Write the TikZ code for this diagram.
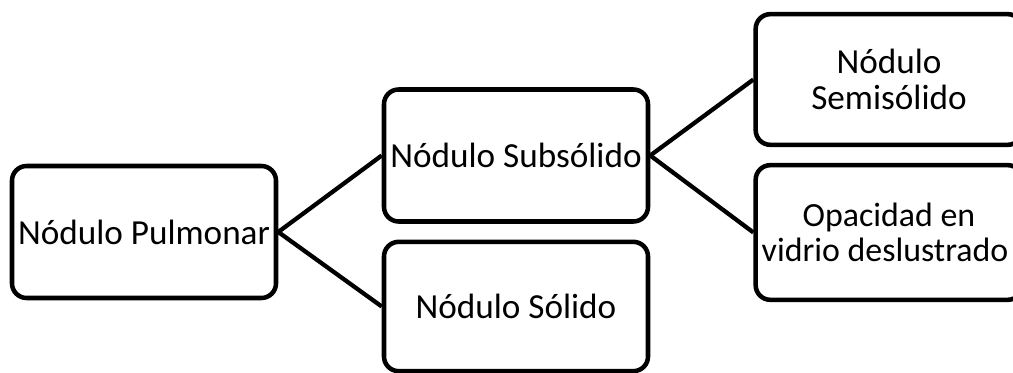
\documentclass[tikz,border=0pt]{standalone}
\usepackage{fontspec}
\setmainfont{Carlito}
\begin{document}
\begin{tikzpicture}[x=0.75pt, y=-0.75pt,
  box/.style={draw=black, line width=3.4pt, rounded corners=11pt, fill=white,
    minimum width=198pt, minimum height=99pt, align=center, inner sep=0pt,
    font=\fontsize{26.4}{26.4}\selectfont},
  link/.style={draw=black, line width=3.2pt}]
  \useasboundingbox (0,0) rectangle (1013,373);
  \node[box] (pul) at (144,232) {Nódulo Pulmonar};
  \node[box] (sub) at (516,155.5) {Nódulo Subsólido};
  \node[box, minimum height=97pt] (sol) at (516,306.5) {Nódulo Sólido};
  % right column runs past the page edge
  \node[box, minimum height=98pt, minimum width=200pt] (semi) at (889,79.5) {Nódulo\\Semisólido};
  \node[box, minimum height=101pt, minimum width=200pt,
    font=\fontsize{25.4}{26.4}\selectfont] (opa) at (889,232.5)
    {Opacidad en\\\hspace*{-6pt}vidrio deslustrado};
  \draw[link] (pul.east) -- (sub.west);
  \draw[link] (pul.east) -- (sol.west);
  \draw[link] (sub.east) -- (semi.west);
  \draw[link] (sub.east) -- (opa.west);
\end{tikzpicture}
\end{document}
